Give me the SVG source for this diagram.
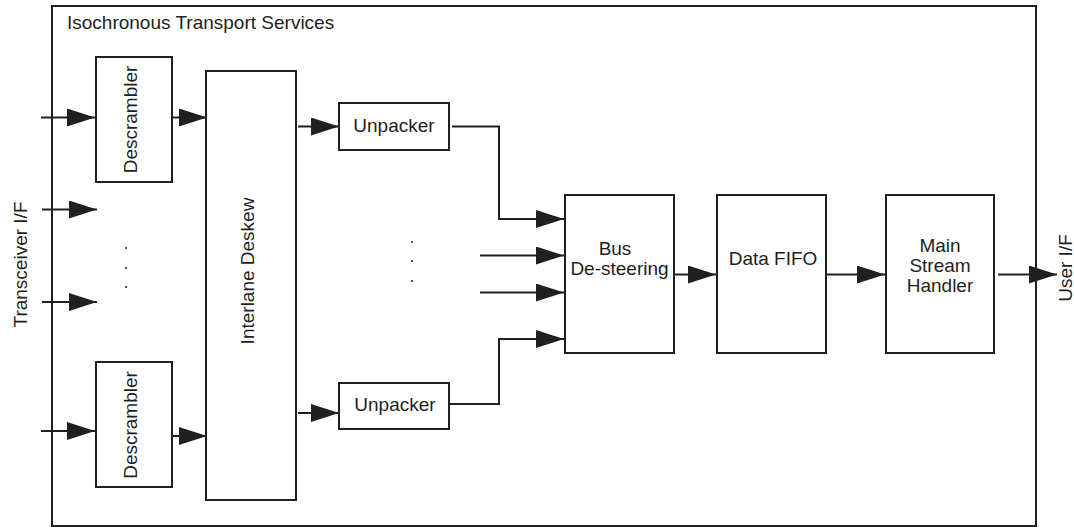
<svg xmlns="http://www.w3.org/2000/svg" width="1074" height="529" viewBox="0 0 1074 529">
<style>
.box{fill:#fff;stroke:#231f20;stroke-width:2}
.frame{fill:none;stroke:#231f20;stroke-width:2}
.ln{fill:none;stroke:#231f20;stroke-width:2}
.t{font-family:"Liberation Sans",Arial,sans-serif;font-size:19px;fill:#231f20}
.c{text-anchor:middle}
.dot{fill:#231f20}
</style>
<defs>
<marker id="ah" markerUnits="userSpaceOnUse" markerWidth="28" markerHeight="18" refX="28" refY="9" orient="auto">
<path d="M0,0 L28,9 L0,18 Z" fill="#231f20"/>
</marker>
</defs>
<g id="frame">
<rect class="frame" x="52" y="6" width="984" height="520"/>
<text class="t" x="67" y="29">Isochronous Transport Services</text>
</g>
<g id="descrambler1">
<rect class="box" x="96" y="57" width="76" height="125"/>
<text class="t c" transform="translate(137,119.5) rotate(-90)">Descrambler</text>
</g>
<g id="descrambler2">
<rect class="box" x="96" y="362" width="76" height="125"/>
<text class="t c" transform="translate(137,425) rotate(-90)">Descrambler</text>
</g>
<g id="deskew">
<rect class="box" x="206" y="71" width="90" height="429"/>
<text class="t c" transform="translate(254,271) rotate(-90)">Interlane Deskew</text>
</g>
<g id="unpacker1">
<rect class="box" x="339" y="103" width="110" height="47"/>
<text class="t c" x="394" y="132">Unpacker</text>
</g>
<g id="unpacker2">
<rect class="box" x="339" y="383" width="110" height="46"/>
<text class="t c" x="395" y="411">Unpacker</text>
</g>
<g id="bus">
<rect class="box" x="565" y="195" width="109" height="158"/>
<text class="t c" x="615" y="255">Bus</text>
<text class="t c" x="619.5" y="274.5">De-steering</text>
</g>
<g id="fifo">
<rect class="box" x="717" y="195" width="109" height="158"/>
<text class="t c" x="773" y="265">Data FIFO</text>
</g>
<g id="main">
<rect class="box" x="886" y="195" width="108" height="158"/>
<text class="t c" x="940" y="251.5">Main</text>
<text class="t c" x="940" y="271.5">Stream</text>
<text class="t c" x="940" y="291.5">Handler</text>
</g>
<g id="labels">
<text class="t c" transform="translate(27,264.5) rotate(-90)">Transceiver I/F</text>
<text class="t c" transform="translate(1072,268) rotate(-90)">User I/F</text>
<circle class="dot" cx="126" cy="248" r="1"/>
<circle class="dot" cx="126" cy="268" r="1"/>
<circle class="dot" cx="126" cy="287" r="1"/>
<circle class="dot" cx="412" cy="242" r="1"/>
<circle class="dot" cx="412" cy="261" r="1"/>
<circle class="dot" cx="412" cy="281" r="1"/>
</g>
<g id="connectors">
<path class="ln" d="M41,117.5 H95" marker-end="url(#ah)"/>
<path class="ln" d="M42,209.5 H97" marker-end="url(#ah)"/>
<path class="ln" d="M42,302 H97" marker-end="url(#ah)"/>
<path class="ln" d="M41,431 H95" marker-end="url(#ah)"/>
<path class="ln" d="M172,117.5 H207" marker-end="url(#ah)"/>
<path class="ln" d="M172,436 H207" marker-end="url(#ah)"/>
<path class="ln" d="M298,126.5 H339" marker-end="url(#ah)"/>
<path class="ln" d="M298,413 H339" marker-end="url(#ah)"/>
<path class="ln" d="M452,126.5 H499 V219 H564" marker-end="url(#ah)"/>
<path class="ln" d="M480,255.5 H564" marker-end="url(#ah)"/>
<path class="ln" d="M480,292.5 H564" marker-end="url(#ah)"/>
<path class="ln" d="M449,404 H499 V339 H564" marker-end="url(#ah)"/>
<path class="ln" d="M674,274.5 H716" marker-end="url(#ah)"/>
<path class="ln" d="M826,274.5 H885" marker-end="url(#ah)"/>
<path class="ln" d="M998,274.5 H1057" marker-end="url(#ah)"/>
</g>
</svg>
